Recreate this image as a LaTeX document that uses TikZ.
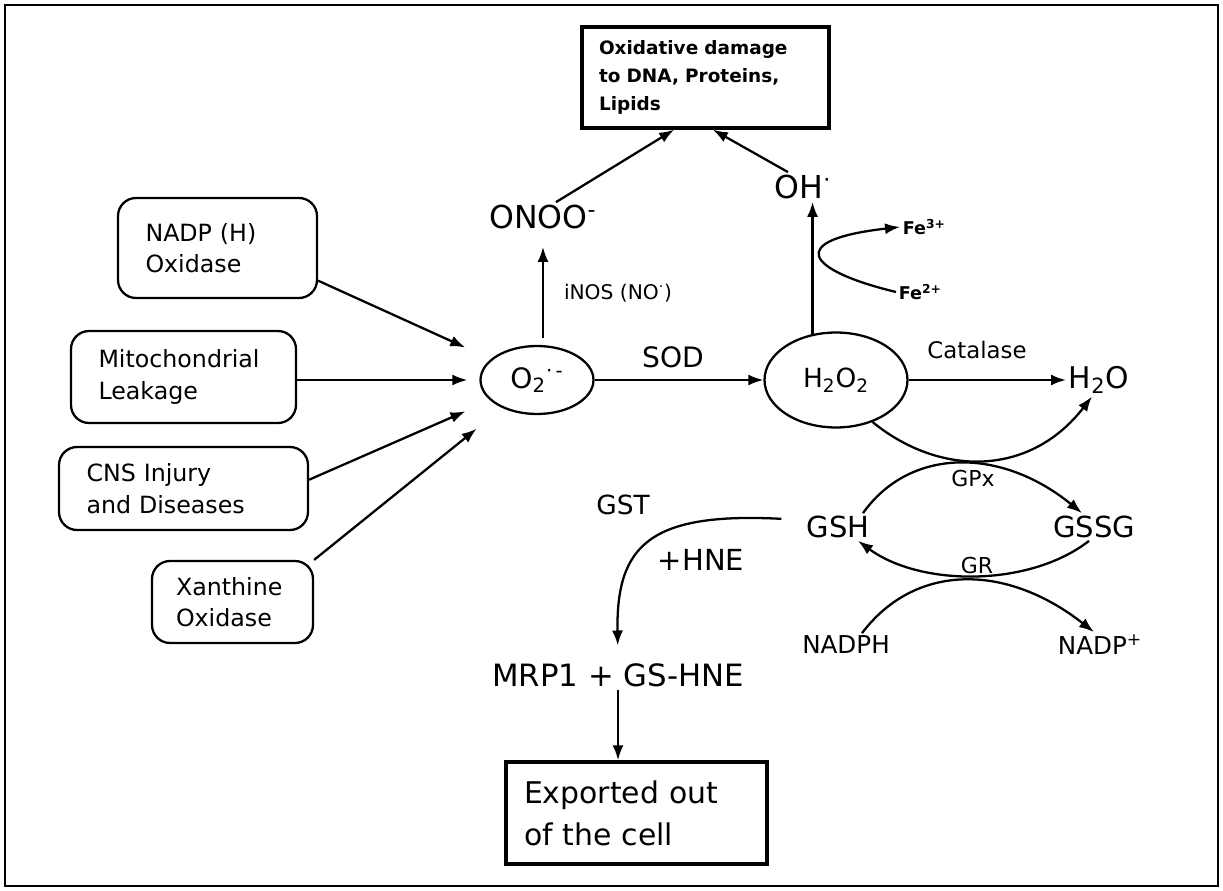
\documentclass[tikz,border=0pt]{standalone}
\usepackage{fontspec}
\setmainfont{DejaVu Sans}
\usetikzlibrary{arrows.meta,shapes.geometric}

\tikzset{
  srcbox/.style={draw,rounded corners=0.36cm,align=left,inner xsep=0.55cm,
    font=\fontsize{13.5}{18}\selectfont},
  outbox/.style={draw,line width=1.9pt,align=left},
  spec/.style={inner sep=1pt},
  radical/.style={draw,ellipse,inner sep=0pt},
}

\begin{document}
\begin{tikzpicture}[x=0.02cm,y=-0.02cm,line width=1.3pt,>={Latex[length=3mm,width=2.2mm]}]
  \useasboundingbox (0,0) rectangle (1223,891);
  \draw[line width=0.8pt] (5,5) rectangle (1218,886);

  % sources of superoxide
  \node[srcbox,text width=2.88cm,minimum height=2cm] (nadp) at (217.5,248) {NADP (H)\\Oxidase};
  \node[srcbox,text width=3.4cm,minimum height=1.84cm] (mito) at (183.5,377) {Mitochondrial\\Leakage};
  \node[srcbox,text width=3.88cm,minimum height=1.66cm] (cns) at (183.5,488.5) {CNS Injury\\and Diseases};
  \node[srcbox,inner xsep=0.48cm,text width=2.26cm,minimum height=1.64cm] (xan) at (232.5,602) {Xanthine\\Oxidase};

  % main species
  \node[radical,minimum width=2.26cm,minimum height=1.36cm,font=\fontsize{16}{18}\selectfont] (o2) at (537,380) {O\textsubscript{2}\textsuperscript{·\,-}};
  \node[radical,minimum width=2.86cm,minimum height=1.9cm,font=\fontsize{15}{18}\selectfont] (h2o2) at (836,380) {H\textsubscript{2}O\textsubscript{2}};
  \node[spec,font=\fontsize{18}{20}\selectfont] (onoo) at (543,217) {ONOO\textsuperscript{-}};
  \node[spec,font=\fontsize{18}{20}\selectfont] (oh) at (803,187) {OH\textsuperscript{·}};
  \node[spec,font=\fontsize{17}{20}\selectfont] (h2o) at (1099,380) {H\textsubscript{2}O};
  \node[outbox,inner xsep=0.34cm,text width=4.26cm,minimum height=2.02cm,
    font=\fontsize{10.5}{16}\selectfont\bfseries] (dmg) at (705.5,77.5) {Oxidative damage\\to DNA, Proteins,\\Lipids};

  % enzymes
  \node[anchor=west,font=\fontsize{11.5}{13}\selectfont] (inos) at (557,293) {iNOS (NO\textsuperscript{·})};
  \node[font=\fontsize{16}{18}\selectfont] (sod) at (673,357) {SOD};
  \node[font=\fontsize{13}{15}\selectfont] (cat) at (977,350) {Catalase};
  \node[anchor=west,spec,font=\fontsize{10}{12}\selectfont\bfseries] (fe3) at (900,227) {Fe\textsuperscript{3+}};
  \node[anchor=west,spec,font=\fontsize{10}{12}\selectfont\bfseries] (fe2) at (896,292) {Fe\textsuperscript{2+}};

  % glutathione cycle
  \node[spec,font=\fontsize{16.5}{19}\selectfont] (gsh) at (838,527) {GSH};
  \node[spec,font=\fontsize{16.5}{19}\selectfont] (gssg) at (1094,527) {GSSG};
  \node[font=\fontsize{12.5}{14}\selectfont] (gpx) at (973,479) {GPx};
  \node[font=\fontsize{12.5}{14}\selectfont] (gr) at (977,566) {GR};
  \node[spec,font=\fontsize{14}{16}\selectfont] (nadph) at (846,645) {NADPH};
  \node[spec,font=\fontsize{14}{16}\selectfont] (nadpp) at (1100,645) {NADP\textsuperscript{+}};

  % export of the conjugate
  \node[font=\fontsize{15}{17}\selectfont] (gst) at (623,505) {GST};
  \node[font=\fontsize{16.5}{19}\selectfont] (hne) at (701,560) {+HNE};
  \node[spec,font=\fontsize{17.5}{20}\selectfont] (mrp) at (618,675) {MRP1 + GS-HNE};
  \node[outbox,inner xsep=0.36cm,text width=4.5cm,minimum height=2.04cm,
    font=\fontsize{17}{24}\selectfont] (exp) at (636.5,813) {Exported out\\of the cell};

  % arrows into superoxide
  \draw[->,shorten >=0.56cm] (nadp.-18) -- (o2);
  \draw[->,shorten >=0.24cm] (mito.east |- o2) -- (o2.west);
  \draw[->,shorten >=0.54cm] (cns.4) -- (o2);
  \draw[->,shorten >=0.66cm] (xan.north east) -- (o2);

  \draw[->,shorten <=0.14cm,shorten >=0.3cm] (o2.north -| onoo) -- (onoo.south);
  \draw[->] (o2.east) -- (h2o2.west);
  \draw[->] (h2o2.117) -- (h2o2.117 |- oh.south);
  \draw[->] (h2o2.east) -- (h2o.west);
  \draw[->] ([xshift=0.26cm]onoo.north) -- (dmg.239);
  \draw[->] ([xshift=-0.3cm]oh.north) -- (dmg.278);
  \draw[->] (fe2.west) .. controls (805,270) and (785,240) .. (fe3.west);

  % glutathione curves
  \draw[->] (h2o2.-49) .. controls (940,477) and (1030,477) .. ([xshift=-0.14cm]h2o.south);
  \draw[->] ([xshift=0.5cm]gsh.north) .. controls (910,447) and (1001,447) .. ([xshift=-0.24cm]gssg.north);
  \draw[->] ([xshift=-0.1cm]gssg.south) .. controls (1030,587) and (921,587) .. ([xshift=0.4cm]gsh.south);
  \draw[->] ([xshift=0.32cm]nadph.north) .. controls (915,563) and (1006,563) .. ([xshift=-0.12cm]nadpp.north);

  \draw[->,shorten <=0.45cm,shorten >=0.3cm] ([yshift=0.14cm]gsh.west) .. controls (650,512) and (616,545) .. (mrp.north);
  \draw[->] (mrp.south) -- (mrp.south |- exp.north);
\end{tikzpicture}
\end{document}
